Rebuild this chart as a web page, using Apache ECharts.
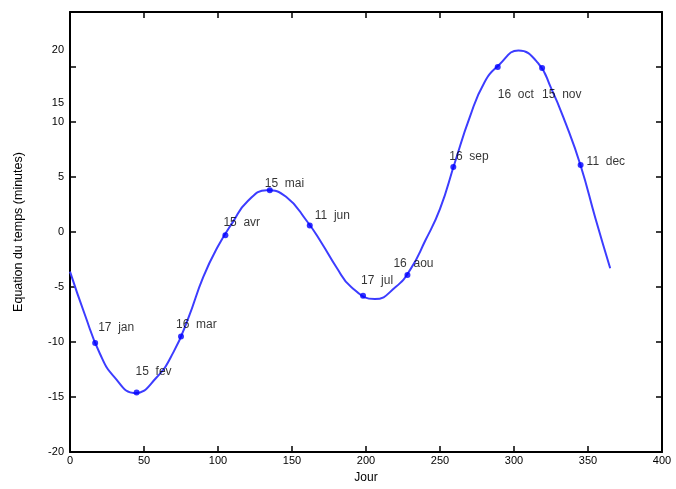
<!DOCTYPE html>
<html>
<head>
<meta charset="utf-8">
<script src="https://cdn.jsdelivr.net/npm/echarts@6/dist/echarts.min.js"></script>
<style>html,body{margin:0;padding:0;background:#fff;}#c{width:676px;height:489px;}</style>
</head>
<body>
<div id="c"></div>
<script>
// Curve (day, minutes)
const curveDays = [0, 10, 20, 30, 44, 58, 70, 80, 90, 100, 110, 120, 133, 146, 160, 170, 180, 190, 206, 220, 230, 240, 250, 260, 270, 280, 290, 303, 316, 325, 335, 345, 355, 365];
const curveValues = [-3.6, -7.5, -11.0, -13.2, -14.65, -13.3, -10.9, -7.8, -4.1, -1.3, 0.9, 2.8, 3.8, 3.2, 1.0, -1.0, -3.2, -5.0, -6.1, -5.0, -3.4, -0.8, 2.1, 6.3, 10.4, 13.6, 15.2, 16.5, 15.4, 13.1, 9.85, 6.05, 1.25, -3.3];

// Marked dates
const markDays = [17, 45, 75, 105, 135, 162, 198, 228, 259, 289, 319, 345];
const markValues = [-10.1, -14.6, -9.5, -0.3, 3.8, 0.6, -5.8, -3.9, 5.9, 15.0, 14.9, 6.1];
const markLabels = ['17  jan', '15  fev', '16  mar', '15  avr', '15  mai', '11  jun', '17  jul', '16  aou', '16  sep', '16  oct', '15  nov', '11  dec'];

// Axis
const xTicks = [0, 50, 100, 150, 200, 250, 300, 350, 400];
const yTicks = [-20, -15, -10, -5, 0, 5, 10, 15, 20];
const xName = 'Jour';
const yName = 'Equation du temps (minutes)';

// label placement (style, not data)
const labelOffsets = [[3,-15],[-1,-21],[-5,-12],[-2,-13],[-5,-7],[5,-10],[-2,-15],[-14,-11],[-4,-10],[0,28],[0,27],[6,-3]];

const chart = echarts.init(document.getElementById('c'), null, {renderer: 'canvas'});
const font = 'Liberation Sans, Arial, sans-serif';
const axisLine = {show: true, onZero: false, lineStyle: {color: '#000', width: 2}};
const axisTick = {show: true, inside: true, length: 6, lineStyle: {color: '#000', width: 1.5}};

chart.setOption({
  animation: false,
  backgroundColor: '#fff',
  grid: {left: 70, right: 14, top: 12, bottom: 35},
  xAxis: [{
    type: 'value', min: xTicks[0], max: xTicks[xTicks.length-1], interval: 50,
    position: 'bottom',
    axisLine, axisTick, splitLine: {show: false},
    axisLabel: {color: '#000', fontSize: 11, fontFamily: font, margin: 3},
    name: xName, nameLocation: 'middle', nameGap: 20,
    nameTextStyle: {color: '#000', fontSize: 12, fontFamily: font}
  }, {
    type: 'value', min: xTicks[0], max: xTicks[xTicks.length-1], interval: 50,
    position: 'top',
    axisLine, axisTick, splitLine: {show: false}, axisLabel: {show: false}
  }],
  yAxis: [{
    type: 'value', min: yTicks[0], max: yTicks[yTicks.length-1], interval: 5,
    position: 'left',
    axisLine, axisTick, splitLine: {show: false},
    axisLabel: {
      color: '#000', fontSize: 11, fontFamily: font, margin: 6,
      formatter: function (v) {
        if (v === 20) return '{a|20}';
        if (v === 15) return '{b|15}';
        return String(v);
      },
      rich: {
        a: {color: '#000', fontSize: 11, fontFamily: font, padding: [76, 0, 0, 0]},
        b: {color: '#000', fontSize: 11, fontFamily: font, padding: [72, 0, 0, 0]}
      }
    },
    name: yName, nameLocation: 'middle', nameGap: 45, nameRotate: 90,
    nameTextStyle: {color: '#000', fontSize: 12.5, fontFamily: font}
  }, {
    type: 'value', min: yTicks[0], max: yTicks[yTicks.length-1], interval: 5,
    position: 'right',
    axisLine, axisTick, splitLine: {show: false}, axisLabel: {show: false}
  }],
  series: [{
    type: 'line',
    data: curveDays.map((d, i) => [d, curveValues[i]]),
    smooth: 0.5,
    showSymbol: false,
    lineStyle: {color: '#3c3cff', width: 2},
    z: 2
  }, {
    type: 'scatter',
    data: markDays.map((d, i) => ({
      value: [d, markValues[i]],
      label: {offset: labelOffsets[i]}
    })),
    symbol: 'circle', symbolSize: 6,
    itemStyle: {color: '#0000ff'},
    label: {
      show: true, position: 'inside', align: 'left', verticalAlign: 'middle',
      color: '#000', fontSize: 12, fontFamily: font,
      formatter: p => markLabels[p.dataIndex]
    },
    z: 3
  }]
});
</script>
</body>
</html>
